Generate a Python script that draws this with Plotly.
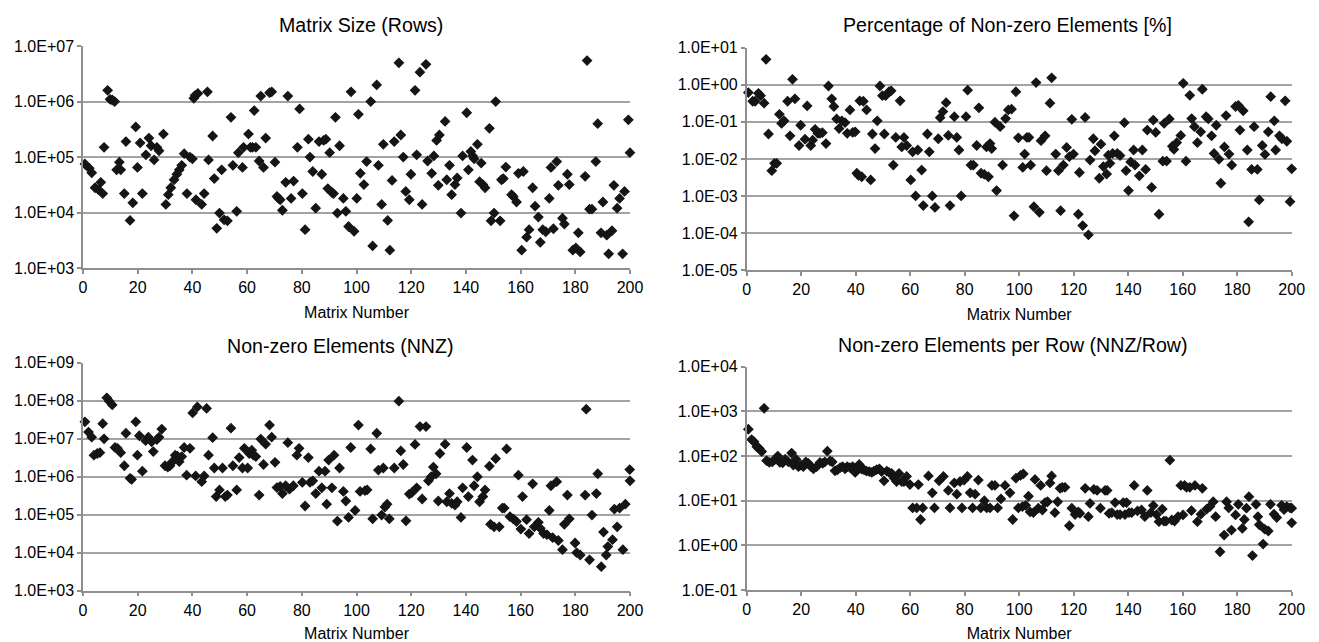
import plotly.graph_objects as go

# ---------------- data ----------------
rows_matrix_no = [
    0.7, 2.3, 3.2, 4.4, 5.6, 6.5, 7.2, 7.7, 9.0, 9.9,
    10.7, 11.6, 12.3, 13.3, 13.8, 15.1, 15.7, 17.2, 18.2, 19.3,
    19.9, 20.9, 21.7, 23.0, 24.1, 24.9, 26.0, 27.0, 27.8, 29.4,
    30.3, 31.2, 32.1, 33.3, 34.3, 35.2, 36.1, 37.0, 38.0, 39.1,
    40.0, 40.5, 41.0, 42.0, 41.3, 43.4, 44.3, 45.5, 45.9, 47.4,
    48.0, 48.9, 49.9, 50.7, 51.6, 52.8, 54.1, 54.8, 56.2, 56.8,
    58.3, 58.7, 60.5, 61.2, 62.0, 62.6, 63.2, 64.4, 65.0, 66.0,
    66.8, 68.2, 69.0, 70.2, 70.9, 71.5, 72.1, 72.9, 74.1, 74.9,
    76.1, 77.0, 78.4, 79.2, 80.2, 81.2, 82.4, 83.0, 84.0, 85.1,
    86.3, 87.3, 88.0, 88.8, 89.5, 90.2, 91.0, 91.6, 92.3, 93.0,
    93.8, 95.2, 96.1, 97.1, 98.0, 99.1, 100.1, 100.7, 101.4, 102.7,
    103.7, 105.2, 105.9, 107.4, 108.0, 109.2, 109.8, 111.4, 112.2, 113.0,
    113.8, 115.5, 116.2, 117.1, 118.0, 119.3, 119.9, 121.4, 122.0, 123.2,
    124.0, 125.4, 126.0, 127.5, 128.3, 129.3, 129.9, 130.3, 132.4, 133.0,
    134.0, 134.8, 136.0, 136.8, 138.2, 138.8, 140.3, 140.9, 141.8, 142.5,
    143.0, 144.2, 145.0, 145.6, 146.2, 147.0, 148.6, 149.2, 150.3, 150.9,
    152.5, 153.0, 153.7, 154.6, 156.7, 157.3, 158.5, 159.2, 160.4, 161.0,
    162.2, 163.1, 164.4, 165.3, 166.5, 167.2, 168.1, 169.2, 170.5, 171.1,
    172.0, 173.2, 173.8, 175.3, 176.0, 177.1, 177.8, 179.1, 180.2, 181.1,
    181.8, 183.6, 184.3, 185.2, 186.1, 187.5, 188.2, 189.4, 190.1, 191.5,
    192.2, 193.4, 194.1, 195.3, 196.2, 197.3, 198.0, 199.4, 200.0,
]
rows_values = [
    7.5e4, 6.3e4, 5.2e4, 2.8e4, 2.6e4, 3.5e4, 2.2e4, 1.5e5, 1.6e6, 1.1e6,
    1.07e6, 1.0e6, 5.9e4, 8.1e4, 5.9e4, 2.2e4, 1.9e5, 7.2e3, 1.5e4, 3.5e5,
    6.5e4, 1.8e5, 2.2e4, 1.1e5, 2.2e5, 1.6e5, 8.9e4, 1.5e5, 1.3e5, 2.6e5,
    1.4e4, 2.1e4, 2.8e4, 3.9e4, 4.9e4, 5.9e4, 7.1e4, 1.15e5, 2.2e4, 1.0e5,
    9.3e4, 1.15e6, 1.3e6, 1.4e6, 1.7e4, 1.4e4, 2.2e4, 1.5e6, 8.9e4, 2.4e5,
    4.1e4, 5.2e3, 9.8e3, 5.9e4, 7.4e3, 7.1e3, 5.2e5, 7.1e4, 1.05e4, 1.2e5,
    6.5e4, 1.5e5, 2.6e5, 1.5e5, 1.5e5, 6.9e5, 1.5e5, 8.5e4, 1.26e6, 6.5e4,
    2.2e5, 1.45e6, 1.5e6, 8.1e4, 1.95e4, 1.8e4, 1.7e4, 1.1e4, 3.5e4, 1.26e6,
    1.8e4, 3.7e4, 1.5e5, 7.4e5, 2.2e4, 4.9e3, 2.1e5, 1.0e5, 5.5e4, 1.2e4,
    1.9e5, 4.9e4, 2.0e5, 2.1e5, 2.7e4, 1.2e5, 2.3e4, 2.2e4, 5.2e5, 9.8e3,
    1.6e5, 1.8e4, 1.05e4, 5.6e3, 1.5e6, 4.6e3, 1.8e4, 5.9e5, 5.1e4, 3.2e4,
    8.3e4, 1.0e6, 2.5e3, 2.0e6, 7.1e4, 1.4e4, 1.7e5, 7.2e3, 2.1e3, 3.8e4,
    1.9e5, 5.0e6, 2.5e5, 1.0e5, 2.4e4, 1.7e4, 4.9e4, 1.6e6, 1.1e5, 3.4e6,
    1.4e4, 4.7e6, 8.5e4, 5.1e4, 1.05e5, 2.0e5, 3.1e4, 2.5e5, 4.4e5, 3.9e4,
    7.1e4, 2.1e4, 3.2e4, 4.2e4, 9.8e3, 1.05e5, 6.3e5, 5.9e4, 1.26e5, 1.05e5,
    9.3e4, 1.7e5, 3.6e4, 7.8e4, 3.2e4, 2.8e4, 3.3e5, 7.1e3, 9.8e3, 1.0e6,
    7.1e3, 3.9e4, 4.1e4, 6.6e4, 2.1e4, 1.95e4, 1.55e4, 5.1e4, 2.1e3, 5.5e4,
    3.6e3, 4.9e3, 2.8e4, 1.3e4, 8.3e3, 2.9e3, 4.9e3, 4.5e3, 1.8e4, 6.5e4,
    5.1e3, 8.3e4, 3.1e4, 7.9e3, 6.2e3, 4.9e4, 3.2e4, 2.1e3, 2.3e3, 4.3e3,
    1.95e3, 4.5e4, 5.5e6, 1.15e4, 1.15e4, 8.3e4, 4.0e5, 4.3e3, 1.55e4, 3.9e3,
    1.8e3, 4.7e3, 3.1e4, 1.2e4, 1.8e4, 1.8e3, 2.4e4, 4.7e5, 1.2e5,
]

pct_matrix_no = [
    0.6, 2.2, 3.1, 4.3, 5.1, 6.4, 7.1, 8.0, 9.2, 10.2,
    11.0, 12.0, 12.8, 13.7, 15.0, 15.9, 16.8, 17.7, 19.2, 19.8,
    21.4, 22.2, 23.5, 24.2, 25.1, 26.1, 26.9, 27.8, 29.1, 30.0,
    31.2, 32.0, 33.0, 33.9, 34.9, 36.1, 36.9, 37.9, 38.9, 39.8,
    40.4, 41.0, 42.2, 41.5, 42.8, 44.0, 45.5, 46.1, 47.1, 47.9,
    48.9, 49.8, 50.5, 51.0, 52.2, 53.0, 53.8, 54.7, 56.3, 56.9,
    57.7, 58.7, 60.2, 60.9, 62.0, 62.8, 64.2, 64.8, 66.3, 67.0,
    68.1, 69.1, 70.3, 71.0, 72.0, 73.2, 74.0, 74.6, 76.2, 77.1,
    77.9, 78.7, 80.5, 81.1, 82.3, 83.2, 84.4, 85.2, 86.0, 87.2,
    88.0, 88.7, 89.3, 89.9, 91.1, 91.7, 93.0, 93.9, 95.0, 96.0,
    97.2, 98.1, 98.8, 99.7, 101.3, 102.0, 102.8, 103.6, 104.2, 105.4,
    106.2, 107.4, 108.0, 109.5, 110.0, 111.3, 111.9, 113.4, 114.4, 115.2,
    116.2, 117.4, 118.4, 119.3, 119.9, 121.7, 122.1, 123.3, 124.2, 125.4,
    126.0, 127.2, 127.8, 129.4, 130.0, 130.9, 132.1, 132.7, 133.3, 134.3,
    134.9, 136.0, 137.0, 138.6, 139.2, 140.1, 140.9, 142.5, 142.0, 144.1,
    145.2, 146.4, 147.0, 148.6, 149.2, 150.1, 151.3, 152.7, 153.2, 154.1,
    155.1, 156.2, 156.8, 157.8, 159.3, 160.2, 161.2, 162.6, 163.3, 164.3,
    165.4, 166.6, 167.2, 168.6, 169.4, 170.6, 171.5, 172.3, 173.3, 174.0,
    175.3, 175.9, 177.0, 178.0, 179.4, 180.4, 181.0, 182.2, 183.7, 184.2,
    185.3, 186.2, 187.4, 188.1, 189.2, 190.2, 191.4, 192.3, 193.6, 194.1,
    195.5, 196.4, 197.6, 198.2, 199.4, 200.0,
]
pct_values = [
    0.62, 0.36, 0.36, 0.59, 0.51, 0.32, 4.9, 0.047, 0.0048, 0.0076,
    0.0076, 0.16, 0.091, 0.107, 0.36, 0.042, 1.41, 0.42, 0.023, 0.081,
    0.034, 0.27, 0.023, 0.032, 0.063, 0.049, 0.049, 0.051, 0.026, 0.93,
    0.42, 0.26, 0.12, 0.066, 0.107, 0.095, 0.049, 0.21, 0.052, 0.054,
    0.0041, 0.0036, 0.0033, 0.37, 0.36, 0.21, 0.0027, 0.047, 0.019, 0.107,
    0.93, 0.51, 0.047, 0.51, 0.65, 0.69, 0.0068, 0.038, 0.37, 0.021,
    0.038, 0.023, 0.0027, 0.0155, 0.001, 0.0174, 0.005, 0.00055, 0.047, 0.0155,
    0.001, 0.00049, 0.035, 0.13, 0.19, 0.33, 0.043, 0.00055, 0.138, 0.038,
    0.0174, 0.001, 0.138, 0.72, 0.0068, 0.0068, 0.023, 0.24, 0.0041, 0.0038,
    0.021, 0.0033, 0.026, 0.019, 0.098, 0.0014, 0.074, 0.0068, 0.123, 0.21,
    0.22, 0.00029, 0.65, 0.037, 0.0059, 0.0135, 0.038, 0.038, 0.0068, 0.00051,
    1.15, 0.00036, 0.031, 0.042, 0.0048, 0.32, 1.55, 0.0135, 0.0048, 0.0004,
    0.0068, 0.0204, 0.0115, 0.117, 0.0135, 0.00032, 0.0043, 0.000158, 0.132, 0.000089,
    0.0093, 0.035, 0.0166, 0.003, 0.025, 0.0062, 0.0039, 0.0126, 0.0076, 0.0141,
    0.042, 0.0141, 0.0123, 0.095, 0.0048, 0.0014, 0.0083, 0.0068, 0.0174, 0.0035,
    0.0174, 0.0052, 0.06, 0.0017, 0.112, 0.052, 0.00032, 0.0087, 0.091, 0.0087,
    0.12, 0.022, 0.018, 0.0275, 0.043, 1.1, 0.0087, 0.52, 0.123, 0.074,
    0.0275, 0.054, 0.76, 0.138, 0.12, 0.042, 0.0141, 0.081, 0.0098, 0.0022,
    0.021, 0.148, 0.0135, 0.0068, 0.26, 0.28, 0.06, 0.2, 0.0174, 0.0002,
    0.0052, 0.074, 0.0052, 0.00078, 0.023, 0.0132, 0.054, 0.48, 0.107, 0.0174,
    0.042, 0.035, 0.37, 0.03, 0.0007, 0.0054,
]

nnz_matrix_no = [
    0.7, 2.0, 3.2, 4.0, 5.2, 6.2, 7.2, 7.7, 8.7, 9.6,
    10.7, 11.7, 12.6, 13.8, 15.1, 15.7, 17.2, 17.8, 19.3, 19.9,
    20.6, 21.7, 22.9, 23.9, 25.1, 25.7, 27.0, 27.8, 28.8, 30.0,
    31.0, 31.8, 32.7, 33.7, 34.5, 35.2, 36.1, 37.0, 37.9, 39.1,
    40.1, 41.2, 41.8, 43.4, 44.3, 45.2, 45.9, 47.4, 48.0, 48.7,
    49.9, 51.0, 52.0, 52.8, 54.1, 54.8, 56.2, 57.1, 58.3, 59.0,
    60.2, 60.8, 61.7, 62.3, 63.2, 64.4, 65.0, 66.0, 66.8, 68.2,
    69.0, 70.2, 70.9, 72.1, 72.9, 74.1, 74.9, 75.5, 76.9, 78.2,
    79.0, 80.2, 81.2, 82.4, 83.0, 84.0, 85.1, 86.3, 87.3, 88.5,
    89.1, 89.8, 91.0, 91.8, 93.0, 93.8, 95.2, 96.1, 97.1, 97.9,
    99.5, 100.7, 101.3, 103.1, 103.9, 105.2, 105.9, 107.4, 108.0, 109.2,
    109.8, 110.4, 111.2, 112.0, 113.8, 115.5, 116.2, 117.1, 118.1, 119.3,
    120.2, 121.4, 122.0, 123.2, 124.0, 125.4, 126.3, 127.3, 128.1, 129.1,
    129.9, 130.5, 132.4, 133.0, 134.0, 134.8, 136.0, 136.8, 138.2, 138.8,
    140.3, 140.9, 142.4, 143.0, 144.2, 145.0, 146.2, 147.0, 148.6, 149.0,
    150.3, 150.9, 152.2, 153.3, 154.0, 154.9, 156.1, 157.3, 158.5, 159.2,
    160.1, 160.7, 162.2, 163.1, 164.4, 165.0, 166.5, 167.2, 168.4, 169.6,
    170.5, 171.1, 171.7, 173.2, 173.8, 175.3, 176.0, 177.1, 177.8, 179.9,
    180.5, 181.8, 183.6, 184.0, 185.2, 186.1, 187.7, 188.2, 189.5, 190.3,
    191.3, 191.9, 193.6, 194.3, 195.3, 196.2, 197.4, 198.3, 199.9, 200.0,
]
nnz_values = [
    2.8e7, 1.5e7, 1.1e7, 3.7e6, 4.1e6, 4.3e6, 2.5e7, 1.0e7, 1.2e8, 9.8e7,
    7.8e7, 5.9e6, 5.6e6, 4.3e6, 1.95e6, 1.4e7, 9.1e5, 8.5e5, 2.8e7, 3.7e6,
    1.2e7, 1.4e6, 8.9e6, 1.1e7, 8.3e6, 4.6e6, 9.5e6, 1.1e7, 1.8e7, 1.95e6,
    1.8e6, 1.95e6, 2.5e6, 3.7e6, 3.5e6, 2.5e6, 3.4e6, 5.9e6, 1.1e6, 5.6e6,
    4.8e7, 1.05e6, 6.9e7, 7.4e5, 1.05e6, 6.3e7, 3.7e6, 1.07e7, 1.7e6, 3.0e5,
    4.5e5, 1.7e6, 3.0e5, 3.3e5, 1.9e7, 1.95e6, 4.5e5, 3.2e6, 1.7e6, 5.6e6,
    1.7e6, 4.1e6, 5.0e6, 3.7e6, 3.4e6, 3.3e5, 9.8e6, 2.1e6, 7.2e6, 2.3e7,
    1.1e7, 2.4e6, 5.2e5, 5.6e5, 3.6e5, 5.8e5, 7.9e6, 4.7e5, 5.8e5, 3.7e6,
    5.6e6, 7.1e5, 1.7e5, 3.2e6, 7.1e5, 7.8e5, 3.6e5, 1.4e6, 5.1e5, 1.4e6,
    1.9e5, 2.75e6, 5.1e5, 3.7e6, 6.8e4, 1.7e6, 4.1e5, 2.3e5, 8.5e4, 5.9e6,
    1.3e5, 2.3e7, 4.1e5, 4.3e5, 4.5e5, 5.4e6, 7.8e4, 1.4e7, 1.5e6, 9.8e4,
    1.7e6, 1.6e5, 1.9e5, 7.8e4, 1.7e6, 9.8e7, 4.8e6, 2.1e6, 6.9e4, 3.5e5,
    3.8e5, 7.1e6, 5.1e5, 2.1e7, 2.6e5, 2.1e7, 7.8e5, 1.0e6, 1.8e6, 1.2e6,
    2.3e5, 4.1e6, 7.2e6, 2.2e5, 3.6e5, 2.0e5, 1.8e5, 2.2e5, 8.5e4, 5.1e5,
    5.9e6, 3.0e5, 2.75e6, 5.8e5, 1.0e6, 2.2e5, 3.0e5, 4.5e5, 1.9e6, 5.6e4,
    4.8e4, 3.0e6, 4.8e4, 1.5e5, 1.5e5, 5.4e6, 8.9e4, 7.8e4, 6.6e4, 1.1e6,
    4.2e4, 3.0e5, 7.4e4, 3.2e4, 6.5e5, 4.8e4, 6.3e4, 4.4e4, 3.2e4, 3.0e4,
    1.3e5, 5.8e5, 2.5e4, 7.4e5, 2.1e4, 1.2e4, 5.6e4, 3.3e5, 7.8e4, 1.8e4,
    1.0e4, 8.7e3, 3.3e5, 6.0e7, 6.5e3, 9.8e4, 3.6e5, 1.2e6, 4.3e3, 3.5e4,
    8.7e3, 1.45e4, 2.2e4, 1.4e5, 4.8e4, 1.5e5, 1.2e4, 1.9e5, 1.55e6, 7.8e5,
]

per_row_matrix_no = [
    0.6, 1.8, 2.7, 3.7, 4.6, 5.5, 6.4, 7.3, 8.3, 9.4,
    10.4, 11.4, 12.2, 13.2, 14.1, 15.3, 16.5, 17.1, 18.1, 19.0,
    19.9, 20.8, 21.7, 22.6, 23.6, 24.5, 25.7, 26.9, 27.9, 28.7,
    29.6, 30.6, 31.4, 32.4, 33.3, 34.3, 35.2, 36.1, 36.9, 37.9,
    38.9, 39.8, 40.6, 41.3, 42.2, 43.1, 44.0, 45.0, 45.9, 46.7,
    47.7, 48.7, 49.5, 50.4, 51.4, 52.2, 53.2, 54.1, 55.0, 55.9,
    56.9, 57.7, 58.7, 59.9, 60.9, 62.4, 63.0, 64.6, 63.8, 66.7,
    68.1, 68.9, 70.6, 72.2, 74.0, 74.6, 76.2, 77.1, 78.3, 79.0,
    79.8, 81.0, 82.0, 82.9, 83.8, 85.0, 85.9, 87.2, 88.1, 89.3,
    90.0, 91.1, 92.1, 93.3, 94.8, 96.6, 97.6, 98.8, 99.7, 100.5,
    101.5, 101.2, 102.4, 103.4, 104.0, 105.2, 105.8, 107.0, 107.9, 108.5,
    109.5, 110.4, 111.3, 111.9, 113.1, 114.1, 115.0, 115.8, 116.8, 118.4,
    119.3, 120.5, 121.7, 122.3, 124.2, 125.4, 126.0, 127.4, 128.6, 129.8,
    131.5, 132.3, 133.0, 134.0, 135.2, 136.0, 137.0, 138.2, 138.8, 139.4,
    140.3, 141.3, 142.2, 143.4, 144.9, 146.1, 147.0, 148.3, 149.2, 150.4,
    151.3, 152.5, 153.1, 153.9, 155.3, 156.0, 157.0, 158.3, 159.3, 160.1,
    160.7, 161.4, 162.6, 163.2, 164.5, 165.4, 166.7, 167.2, 168.8, 170.0,
    171.2, 172.1, 173.7, 175.2, 176.1, 176.9, 177.9, 179.4, 180.4, 181.9,
    182.6, 183.4, 184.3, 185.6, 186.9, 187.6, 188.1, 189.5, 190.1, 191.4,
    192.2, 193.5, 194.5, 196.3, 197.2, 198.2, 199.4, 200.0, 200.0,
]
per_row_values = [
    400, 234, 209, 162, 148, 126, 1175, 79, 72, 74,
    85, 100, 72, 71, 85, 74, 117, 63, 85, 58,
    63, 58, 74, 69, 58, 52, 58, 72, 69, 74,
    129, 78, 74, 47, 49, 55, 58, 52, 58, 55,
    58, 43, 58, 65, 51, 49, 46, 45, 43, 46,
    50, 52, 45, 28, 46, 43, 41, 32, 27, 41,
    27, 27, 35, 23, 6.9, 6.9, 23, 6.9, 3.8, 36,
    15, 6.9, 28, 35, 17, 6.9, 25, 14, 27, 6.9,
    29, 35, 15, 6.9, 14, 29, 6.9, 10, 6.9, 6.9,
    22, 22, 6.9, 11, 22, 15, 3.8, 32, 6.9, 37,
    40, 7.4, 7.9, 12.6, 5.6, 5.4, 30, 6.8, 22, 6.2,
    9.1, 9.5, 25, 36, 5.4, 9.5, 19, 20, 20, 2.75,
    6.8, 4.9, 5.6, 5.2, 19, 4.4, 8.7, 18, 17, 6.8,
    17, 17, 5.2, 5.4, 9.1, 4.9, 4.9, 9.1, 4.9, 9.1,
    5.4, 5.4, 22, 5.9, 6.2, 4.4, 17, 5.4, 7.8, 4.9,
    3.4, 6.5, 3.5, 3.5, 81, 3.7, 3.5, 4.4, 22, 4.8,
    22, 20, 20, 6.0, 22, 3.4, 5.0, 19, 6.5, 7.4,
    9.5, 4.4, 0.72, 1.7, 9.5, 6.9, 2.2, 4.8, 8.3, 2.4,
    3.8, 6.8, 12.3, 0.59, 8.3, 4.4, 2.9, 1.07, 2.3, 2.1,
    8.3, 5.0, 4.2, 7.9, 6.3, 7.4, 6.9, 3.2, 6.8,
]

matrix_number_ticks = [0, 20, 40, 60, 80, 100, 120, 140, 160, 180, 200]
rows_tick_vals = [1e3, 1e4, 1e5, 1e6, 1e7]
rows_tick_text = ["1.0E+03", "1.0E+04", "1.0E+05", "1.0E+06", "1.0E+07"]
pct_tick_vals = [1e-5, 1e-4, 1e-3, 1e-2, 1e-1, 1e0, 1e1]
pct_tick_text = ["1.0E-05", "1.0E-04", "1.0E-03", "1.0E-02", "1.0E-01", "1.0E+00", "1.0E+01"]
nnz_tick_vals = [1e3, 1e4, 1e5, 1e6, 1e7, 1e8, 1e9]
nnz_tick_text = ["1.0E+03", "1.0E+04", "1.0E+05", "1.0E+06", "1.0E+07", "1.0E+08", "1.0E+09"]
per_row_tick_vals = [1e-1, 1e0, 1e1, 1e2, 1e3, 1e4]
per_row_tick_text = ["1.0E-01", "1.0E+00", "1.0E+01", "1.0E+02", "1.0E+03", "1.0E+04"]

titles = ["Matrix Size (Rows)", "Percentage of Non-zero Elements [%]",
          "Non-zero Elements (NNZ)", "Non-zero Elements per Row (NNZ/Row)"]

# ---------------- layout helpers (pixel geometry of the reference) ----------------
# The page body has an 8px margin, so the figure is sized to fit the window
# and positions measured on the page are shifted by that offset.
PAGE_OFFSET = 8
W, H = 1319 - PAGE_OFFSET, 642 - PAGE_OFFSET
FONT = "Liberation Sans, Arial, Helvetica, sans-serif"
GRID = "#a3a3a3"
AXLINE = "#8e8e8e"


def fx(px):
    return (px - PAGE_OFFSET) / W


def fy(py):
    return 1 - (py - PAGE_OFFSET) / H


panels = [
    dict(x=rows_matrix_no, y=rows_values, xd=(83, 630), yd=(268, 46), yr=(3, 7),
         tv=rows_tick_vals, tt=rows_tick_text, title=titles[0], tpos=(361, 25)),
    dict(x=pct_matrix_no, y=pct_values, xd=(746.7, 1291.7), yd=(270, 47.7), yr=(-5, 1),
         tv=pct_tick_vals, tt=pct_tick_text, title=titles[1], tpos=(1007, 25)),
    dict(x=nnz_matrix_no, y=nnz_values, xd=(83, 630), yd=(590.7, 362.7), yr=(3, 9),
         tv=nnz_tick_vals, tt=nnz_tick_text, title=titles[2], tpos=(340, 346)),
    dict(x=per_row_matrix_no, y=per_row_values, xd=(746.7, 1291.7), yd=(590, 366.7), yr=(-1, 4),
         tv=per_row_tick_vals, tt=per_row_tick_text, title=titles[3], tpos=(1013, 345)),
]

fig = go.Figure()
layout = dict(
    width=W, height=H, margin=dict(l=0, r=0, t=0, b=0, autoexpand=False),
    paper_bgcolor="white", plot_bgcolor="white", showlegend=False,
    font=dict(family=FONT, size=16, color="black"),
)
annotations = []
for i, p in enumerate(panels, start=1):
    xname = "x" if i == 1 else f"x{i}"
    yname = "y" if i == 1 else f"y{i}"
    fig.add_trace(go.Scatter(
        x=p["x"], y=p["y"], mode="markers", xaxis=xname, yaxis=yname,
        cliponaxis=False,
        marker=dict(symbol="diamond", size=7, color="#151515",
                    line=dict(width=1.2, color="#151515")),
    ))
    layout["xaxis" if i == 1 else f"xaxis{i}"] = dict(
        domain=[fx(p["xd"][0]), fx(p["xd"][1])], anchor=yname, automargin=False,
        range=[0, 200], tickmode="array", tickvals=matrix_number_ticks,
        ticks="outside", ticklen=4, tickwidth=1.5, tickcolor=AXLINE,
        showline=True, linecolor=AXLINE, linewidth=1.5,
        showgrid=False, zeroline=False,
        tickfont=dict(family=FONT, size=16, color="black"),
        title=dict(text="Matrix Number", font=dict(family=FONT, size=16, color="black"),
                   standoff=12),
    )
    layout["yaxis" if i == 1 else f"yaxis{i}"] = dict(
        domain=[fy(p["yd"][0]), fy(p["yd"][1])], anchor=xname, automargin=False,
        type="log", range=[p["yr"][0], p["yr"][1] + 0.003],
        tickmode="array", tickvals=p["tv"], ticktext=p["tt"],
        ticks="outside", ticklen=4, tickwidth=1.5, tickcolor=AXLINE,
        showline=True, linecolor=AXLINE, linewidth=1.5,
        showgrid=True, gridcolor=GRID, gridwidth=1.5, zeroline=False,
        tickfont=dict(family=FONT, size=16, color="black"),
    )
    annotations.append(dict(
        text=p["title"], x=fx(p["tpos"][0]), y=fy(p["tpos"][1]),
        xref="paper", yref="paper", xanchor="center", yanchor="middle",
        showarrow=False, font=dict(family=FONT, size=19.6, color="black"),
    ))
layout["annotations"] = annotations
fig.update_layout(**layout)

fig.write_html("out.html")
